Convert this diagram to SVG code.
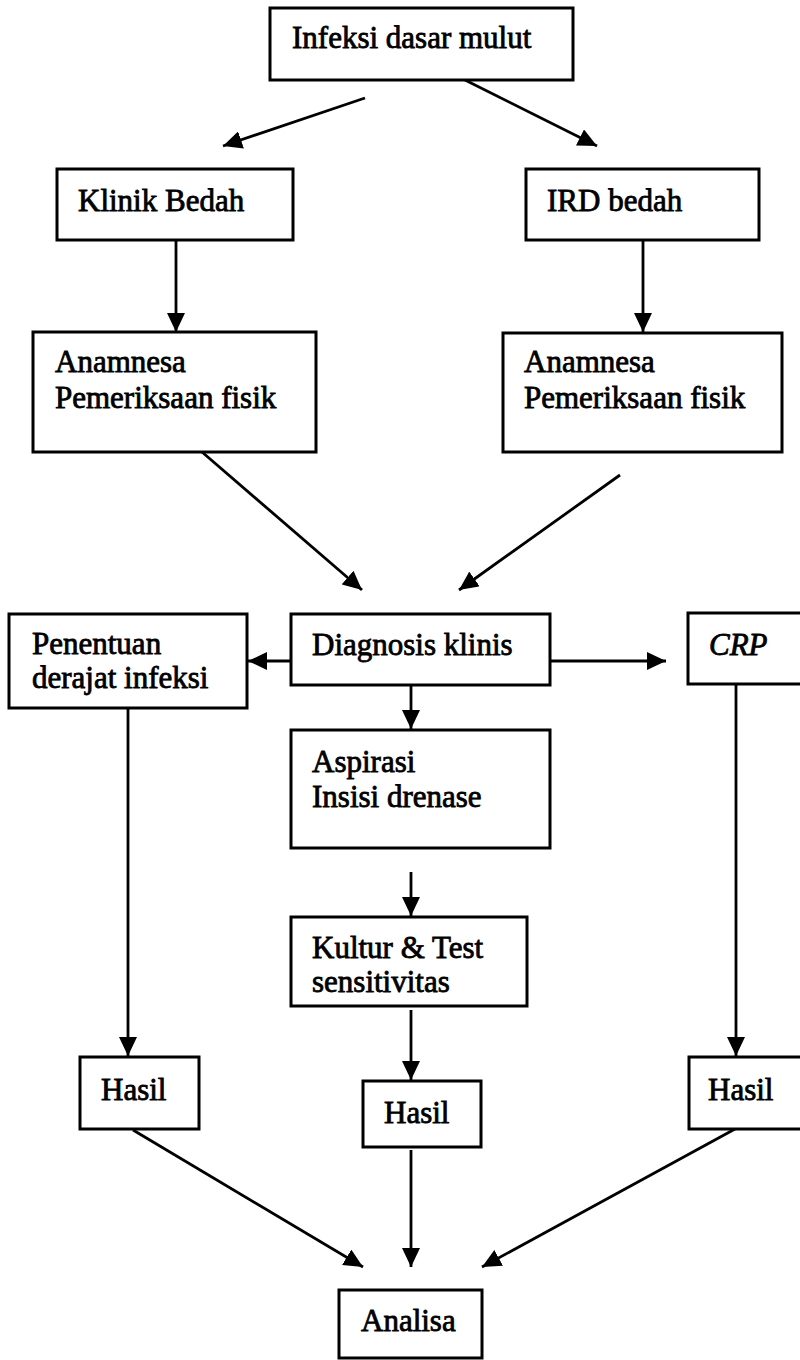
<svg xmlns="http://www.w3.org/2000/svg" width="800" height="1360" viewBox="0 0 800 1360">
<style>
.box{fill:#fff;stroke:#000;stroke-width:3}
.lbl{font-family:"Liberation Serif","Times New Roman",serif;font-size:31px;fill:#000;stroke:#000;stroke-width:0.8}
.it{font-style:italic}
.con{stroke:#000;stroke-width:2.8;fill:none;marker-end:url(#ah)}
</style>
<defs>
<marker id="ah" markerUnits="userSpaceOnUse" markerWidth="20" markerHeight="18" refX="19" refY="9" orient="auto">
<path d="M0,0 L19,9 L0,18 z" fill="#000"/>
</marker>
</defs>
<rect width="800" height="1360" fill="#fff"/>
<g id="connectors">
<line class="con" x1="365" y1="98" x2="223" y2="146"/>
<line class="con" x1="465" y1="80" x2="597" y2="146"/>
<line class="con" x1="176" y1="240" x2="176" y2="332"/>
<line class="con" x1="643" y1="240" x2="643" y2="332"/>
<line class="con" x1="202" y1="452" x2="362" y2="590"/>
<line class="con" x1="620" y1="475" x2="459" y2="590"/>
<line class="con" x1="291" y1="661" x2="248" y2="661"/>
<line class="con" x1="550" y1="661" x2="666" y2="661"/>
<line class="con" x1="411" y1="685" x2="411" y2="729"/>
<line class="con" x1="411" y1="872" x2="411" y2="916"/>
<line class="con" x1="128" y1="708" x2="128" y2="1056"/>
<line class="con" x1="736" y1="684" x2="736" y2="1056"/>
<line class="con" x1="411" y1="1010" x2="411" y2="1080"/>
<line class="con" x1="133" y1="1130" x2="363" y2="1267"/>
<line class="con" x1="411" y1="1150" x2="411" y2="1267"/>
<line class="con" x1="735" y1="1129" x2="482" y2="1267"/>
</g>
<g id="n-infeksi"><rect class="box" x="270" y="8" width="303" height="72"/><text class="lbl" x="292" y="48">Infeksi dasar mulut</text></g>
<g id="n-klinik"><rect class="box" x="57" y="169" width="236" height="71"/><text class="lbl" x="78" y="211">Klinik Bedah</text></g>
<g id="n-ird"><rect class="box" x="526" y="169" width="233" height="71"/><text class="lbl" x="547" y="211">IRD bedah</text></g>
<g id="n-anam-l"><rect class="box" x="33" y="332" width="283" height="120"/><text class="lbl" x="55" y="372">Anamnesa</text><text class="lbl" x="55" y="408">Pemeriksaan fisik</text></g>
<g id="n-anam-r"><rect class="box" x="503" y="333" width="279" height="119"/><text class="lbl" x="524" y="372">Anamnesa</text><text class="lbl" x="524" y="408">Pemeriksaan fisik</text></g>
<g id="n-penentuan"><rect class="box" x="9" y="614" width="238" height="94"/><text class="lbl" x="32" y="654">Penentuan</text><text class="lbl" x="32" y="688">derajat infeksi</text></g>
<g id="n-diagnosis"><rect class="box" x="291" y="614" width="259" height="71"/><text class="lbl" x="312" y="655">Diagnosis klinis</text></g>
<g id="n-crp"><rect class="box" x="688" y="613" width="130" height="71"/><text class="lbl it" x="709" y="655">CRP</text></g>
<g id="n-aspirasi"><rect class="box" x="291" y="730" width="259" height="118"/><text class="lbl" x="312" y="772">Aspirasi</text><text class="lbl" x="312" y="807">Insisi drenase</text></g>
<g id="n-kultur"><rect class="box" x="291" y="917" width="236" height="89"/><text class="lbl" x="312" y="958">Kultur &amp; Test</text><text class="lbl" x="312" y="992">sensitivitas</text></g>
<g id="n-hasil-l"><rect class="box" x="80" y="1057" width="119" height="72"/><text class="lbl" x="101" y="1100">Hasil</text></g>
<g id="n-hasil-m"><rect class="box" x="363" y="1081" width="118" height="66"/><text class="lbl" x="384" y="1123">Hasil</text></g>
<g id="n-hasil-r"><rect class="box" x="689" y="1057" width="130" height="72"/><text class="lbl" x="708" y="1100">Hasil</text></g>
<g id="n-analisa"><rect class="box" x="339" y="1290" width="143" height="68"/><text class="lbl" x="361" y="1331">Analisa</text></g>
</svg>
